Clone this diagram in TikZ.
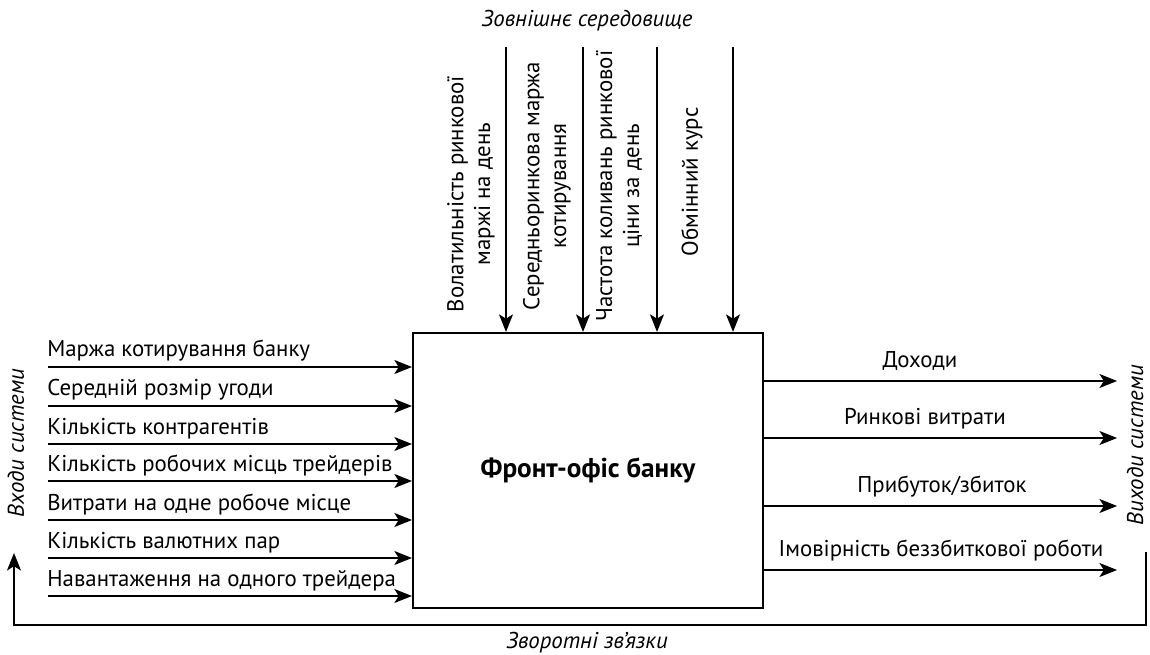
\documentclass[tikz,border=0pt]{standalone}
\usepackage{fontspec}
\setmainfont{PT Sans}
\usetikzlibrary{arrows.meta, positioning}

\begin{document}
\begin{tikzpicture}[x=0.02cm, y=-0.02cm,
    >={Stealth[length=10pt,width=8pt,inset=2.5pt]},
    font=\fontsize{13}{15.3}\selectfont,
    flecha/.style={->, line width=0.75pt},
    etiq/.style={inner sep=0pt},
    cursiva/.style={font=\fontsize{13}{15.3}\selectfont\itshape, inner sep=0pt}]
  \useasboundingbox (0,0) rectangle (1150,655);

  % Bloque
  \node[draw, line width=1.3pt, minimum width=7cm, minimum height=5.5cm,
        font=\fontsize{15.5}{18}\selectfont\bfseries] (box) at (588,470.5) {Фронт-офіс банку};

  % Entorno
  \node[cursiva, anchor=base] (env) at (587,27) {Зовнішнє середовище};
  \foreach \x/\n in {506/1, 583/2, 657/3, 733/4}{
    \coordinate (t\n) at (\x,47);
    \draw[flecha] (t\n) -- (t\n |- box.north);
  }
  \node[etiq, rotate=90, align=center] (v1) at (471,194) {Волатильність ринкової\\маржі на день};
  \node[etiq, rotate=90, align=center] (v2) at (547,186) {Середньоринкова маржа\\котирування};
  \node[etiq, rotate=90, align=center] (v3) at (619,186) {Частота коливань ринкової\\ціни за день};
  \node[etiq, rotate=90, align=center] (v4) at (692,182) {Обмінний курс};

  % Entradas
  \foreach \y/\t [count=\i] in {367/Маржа котирування банку, 406/Середній розмір угоди,
      444/Кількість контрагентів, 481/Кількість робочих місць трейдерів,
      520/Витрати на одне робоче місце, 558/Кількість валютних пар,
      596/Навантаження на одного трейдера}{
    \coordinate (in\i) at (48,\y);
    \draw[flecha] (in\i) -- (in\i -| box.west);
    \node[etiq, anchor=base west] (lin\i) at (47,\y-10) {\t};
  }

  % Salidas
  \foreach \y/\x/\t [count=\i] in {381/920/Доходи, 438/925/Ринкові витрати,
      506/942/{Прибуток/збиток}, 570/941/Імовірність беззбиткової роботи}{
    \coordinate (out\i) at (1117,\y);
    \draw[flecha] (out\i -| box.east) -- (out\i);
    \node[etiq, anchor=base] (lout\i) at (\x,\y-14) {\t};
  }

  % Retroalimentacion
  \coordinate (fbA) at (1146,552);
  \coordinate (fbB) at (14,553);
  \draw[flecha] (fbA) -- ++(0,73) -| (fbB);
  \node[cursiva, anchor=base] (fb) at (587,648) {Зворотні зв’язки};
  \node[cursiva, rotate=90, anchor=base] (inp) at (24,443) {Входи системи};
  \node[cursiva, rotate=90, anchor=base] (outp) at (1143,445) {Виходи системи};
\end{tikzpicture}
\end{document}
